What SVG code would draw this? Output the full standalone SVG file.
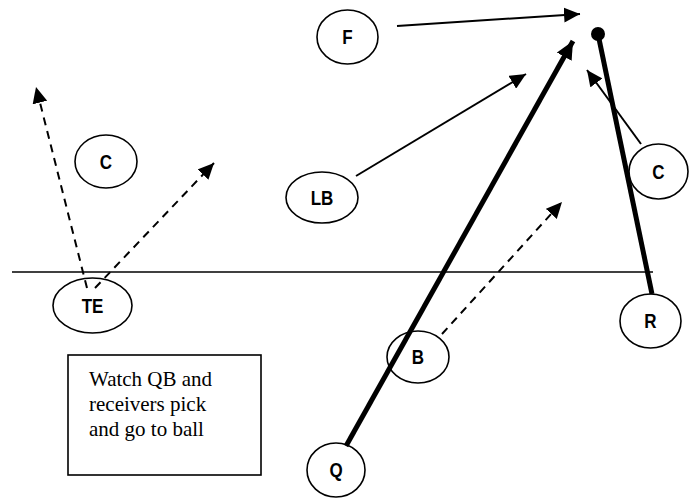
<svg xmlns="http://www.w3.org/2000/svg" width="699" height="498" viewBox="0 0 699 498">
<style>
.node ellipse{fill:#fff;stroke:#000;stroke-width:1.6}
.node text{font-family:"Liberation Sans",Arial,sans-serif;font-weight:bold;font-size:20px;text-anchor:middle;fill:#000}
.thin{stroke:#000;stroke-width:2;fill:none}
.dash{stroke:#000;stroke-width:2;fill:none;stroke-dasharray:8 6}
.thick{stroke:#000;stroke-width:5;fill:none}
.note text{font-family:"Liberation Serif","Times New Roman",serif;font-size:21px;fill:#000}
</style>
<defs>
<marker id="ah" markerUnits="userSpaceOnUse" markerWidth="17" markerHeight="15" refX="16" refY="7.5" orient="auto">
<path d="M0,0 L16,7.5 L0,15 z" fill="#000"/>
</marker>
<marker id="ahb" markerUnits="userSpaceOnUse" markerWidth="19" markerHeight="17" refX="18" refY="8.5" orient="auto">
<path d="M0,0 L18,8.5 L0,17 z" fill="#000"/>
</marker>
</defs>
<line x1="12" y1="272" x2="653" y2="272" stroke="#000" stroke-width="1.6"/>
<g id="F" class="node"><ellipse cx="347.5" cy="37" rx="30.5" ry="27"/><text transform="translate(347.5,44) scale(0.85,1)">F</text></g>
<g id="LB" class="node"><ellipse cx="322" cy="197.5" rx="36" ry="25.5"/><text transform="translate(322,204.5) scale(0.85,1)">LB</text></g>
<g id="C1" class="node"><ellipse cx="106" cy="161.5" rx="31" ry="26.5"/><text transform="translate(106,168.5) scale(0.85,1)">C</text></g>
<g id="C2" class="node"><ellipse cx="658.5" cy="171.5" rx="29.5" ry="27.5"/><text transform="translate(658.5,178.5) scale(0.85,1)">C</text></g>
<g id="TE" class="node"><ellipse cx="92.5" cy="305.5" rx="39.5" ry="27.5"/><text transform="translate(92.5,312.5) scale(0.85,1)">TE</text></g>
<g id="R" class="node"><ellipse cx="650.5" cy="321" rx="30.5" ry="27"/><text transform="translate(650.5,328) scale(0.85,1)">R</text></g>
<g id="B" class="node"><ellipse cx="418" cy="357" rx="31" ry="26"/><text transform="translate(418,364) scale(0.85,1)">B</text></g>
<g id="Q" class="node"><ellipse cx="336" cy="470" rx="29" ry="27"/><text transform="translate(336,477) scale(0.85,1)">Q</text></g>
<g id="note" class="note">
<rect x="68" y="355" width="193" height="120" fill="#fff" stroke="#000" stroke-width="1.6"/>
<text x="89" y="386">Watch QB and</text>
<text x="89" y="411">receivers pick</text>
<text x="89" y="436">and go to ball</text>
</g>
<g id="connectors">
<line class="thin" x1="397" y1="26" x2="580" y2="14" marker-end="url(#ah)"/>
<line class="thin" x1="356" y1="176" x2="526" y2="74" marker-end="url(#ah)"/>
<line class="thin" x1="641" y1="144" x2="587" y2="70" marker-end="url(#ah)"/>
<line class="dash" x1="87" y1="288" x2="36" y2="87" marker-end="url(#ah)"/>
<line class="dash" x1="95" y1="288" x2="214" y2="163" marker-end="url(#ah)"/>
<line class="dash" x1="442" y1="334" x2="562" y2="202" marker-end="url(#ah)"/>
<line class="thick" x1="346" y1="446" x2="573" y2="41" marker-end="url(#ahb)"/>
<line class="thick" x1="652" y1="294" x2="598" y2="34"/>
<circle cx="598" cy="34" r="7" fill="#000"/>
</g>
</svg>
